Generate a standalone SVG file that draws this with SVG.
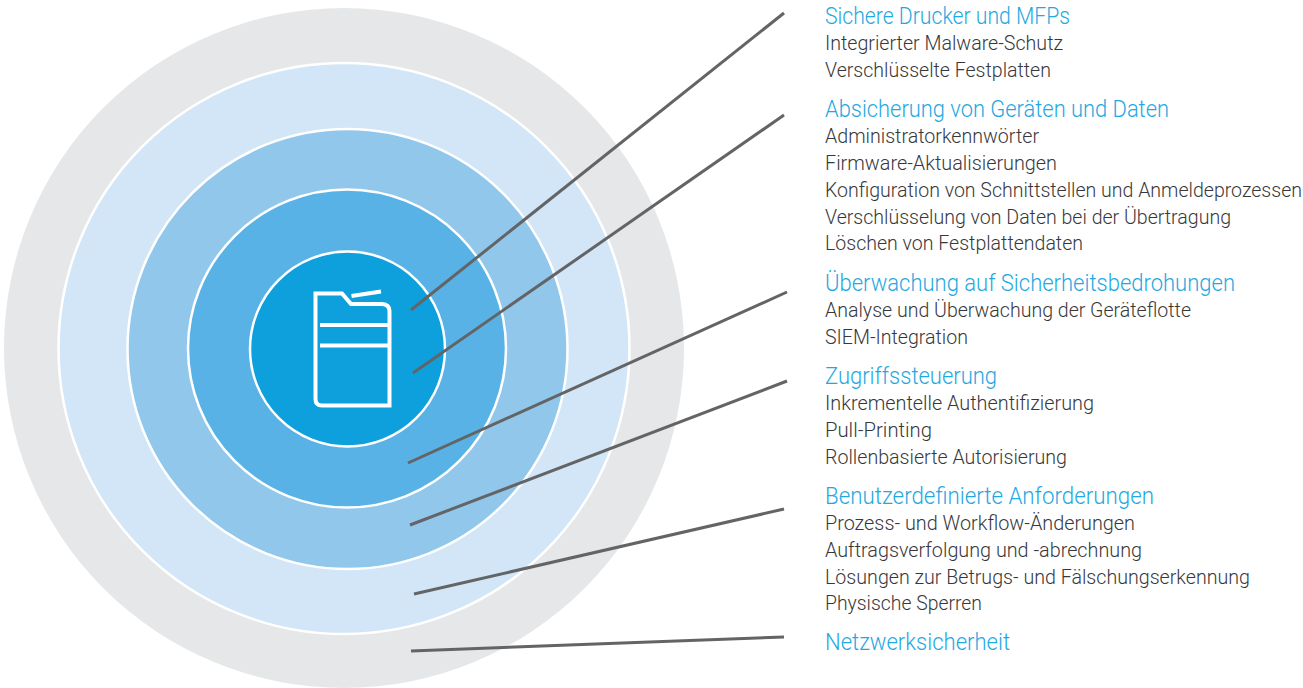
<svg xmlns="http://www.w3.org/2000/svg" width="1303" height="688" viewBox="0 0 1303 688">
<style>
.ring{stroke:#fff;stroke-width:2.500}
.c{stroke:#636466;stroke-width:3;fill:none}
.ic{fill:none;stroke:#fff;stroke-width:4}
text{font-family:Roboto,"Open Sans","Liberation Sans",sans-serif;font-weight:300}
.h{font-size:23px;fill:#1fa8e1}
.b{font-size:20px;fill:#38383a}
.n{font-size:19.400px}
</style>
<g id="rings">
<circle id="ring-network" cx="344" cy="348" r="340" fill="#e6e7e8"/>
<circle id="ring-custom" class="ring" cx="344" cy="348.500" r="285.500" fill="#d2e6f7"/>
<circle id="ring-access" class="ring" cx="347.500" cy="349" r="220" fill="#92c7ec"/>
<circle id="ring-monitor" class="ring" cx="347" cy="348.500" r="159" fill="#59b2e6"/>
<circle id="ring-core" class="ring" cx="347.500" cy="349" r="97.500" fill="#0e9fdd"/>
</g>
<g id="printer-icon">
<path class="ic" d="M315.500 293.500H342L351 304H381Q389.500 304 389.500 311V405.500H322Q315.500 405.500 315.500 399Z"/>
<path class="ic" d="M351.500 296L381 291.500M320 325H388M320 345.500H388"/>
</g>
<g id="connectors">
<path class="c" d="M411 310L784 13"/>
<path class="c" d="M413 373L784 115"/>
<path class="c" d="M408 463L787 292"/>
<path class="c" d="M410 525L787 381"/>
<path class="c" d="M414 594L784 509"/>
<path class="c" d="M411 651L784 637"/>
</g>
<g id="label-1">
<text class="h" x="825" y="24" textLength="245" lengthAdjust="spacingAndGlyphs">Sichere Drucker und MFPs</text>
<text class="b" x="825" y="50" textLength="238" lengthAdjust="spacingAndGlyphs">Integrierter Malware-Schutz</text>
<text class="b" x="825" y="77" textLength="226" lengthAdjust="spacingAndGlyphs">Verschlüsselte Festplatten</text>
</g>
<g id="label-2">
<text class="h" x="825" y="117" textLength="344" lengthAdjust="spacingAndGlyphs">Absicherung von Geräten und Daten</text>
<text class="b" x="825" y="143" textLength="214" lengthAdjust="spacingAndGlyphs">Administratorkennwörter</text>
<text class="b" x="825" y="170" textLength="232" lengthAdjust="spacingAndGlyphs">Firmware-Aktualisierungen</text>
<text class="b n" x="825" y="197" textLength="477" lengthAdjust="spacingAndGlyphs">Konfiguration von Schnittstellen und Anmeldeprozessen</text>
<text class="b" x="825" y="224" textLength="406" lengthAdjust="spacingAndGlyphs">Verschlüsselung von Daten bei der Übertragung</text>
<text class="b" x="825" y="250" textLength="258" lengthAdjust="spacingAndGlyphs">Löschen von Festplattendaten</text>
</g>
<g id="label-3">
<text class="h" x="825" y="291" textLength="410" lengthAdjust="spacingAndGlyphs">Überwachung auf Sicherheitsbedrohungen</text>
<text class="b" x="825" y="317" textLength="366" lengthAdjust="spacingAndGlyphs">Analyse und Überwachung der Geräteflotte</text>
<text class="b" x="825" y="344" textLength="143" lengthAdjust="spacingAndGlyphs">SIEM-Integration</text>
</g>
<g id="label-4">
<text class="h" x="825" y="384" textLength="172" lengthAdjust="spacingAndGlyphs">Zugriffssteuerung</text>
<text class="b" x="825" y="410" textLength="269" lengthAdjust="spacingAndGlyphs">Inkrementelle Authentifizierung</text>
<text class="b" x="825" y="437" textLength="107" lengthAdjust="spacingAndGlyphs">Pull-Printing</text>
<text class="b" x="825" y="464" textLength="242" lengthAdjust="spacingAndGlyphs">Rollenbasierte Autorisierung</text>
</g>
<g id="label-5">
<text class="h" x="825" y="504" textLength="329" lengthAdjust="spacingAndGlyphs">Benutzerdefinierte Anforderungen</text>
<text class="b" x="825" y="530" textLength="310" lengthAdjust="spacingAndGlyphs">Prozess- und Workflow-Änderungen</text>
<text class="b" x="825" y="557" textLength="317" lengthAdjust="spacingAndGlyphs">Auftragsverfolgung und -abrechnung</text>
<text class="b" x="825" y="584" textLength="425" lengthAdjust="spacingAndGlyphs">Lösungen zur Betrugs- und Fälschungserkennung</text>
<text class="b" x="825" y="610" textLength="157" lengthAdjust="spacingAndGlyphs">Physische Sperren</text>
</g>
<g id="label-6">
<text class="h" x="825" y="650" textLength="185" lengthAdjust="spacingAndGlyphs">Netzwerksicherheit</text>
</g>
</svg>
